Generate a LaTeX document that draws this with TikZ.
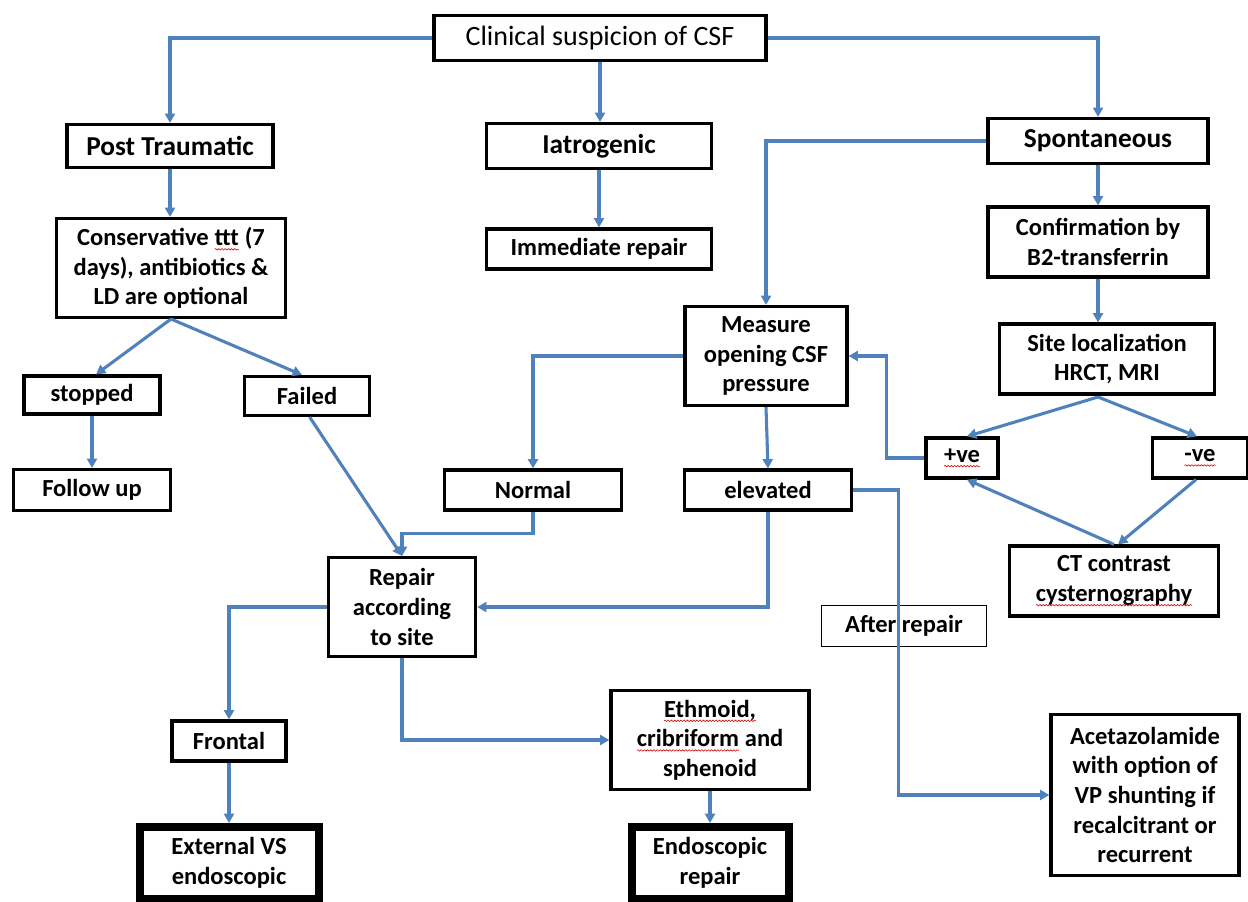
\documentclass[tikz,border=0pt]{standalone}
\usepackage{fontspec}
\setmainfont{Carlito}
\usetikzlibrary{arrows.meta,decorations.pathmorphing}
\definecolor{lineblue}{RGB}{79,129,189}
\newcommand\sq[1]{\tikz[baseline=(sqw.base),x=1pt,y=1pt]{\node[inner sep=0pt,outer sep=0pt,draw=none,minimum width=0pt,minimum height=0pt,line width=0pt] (sqw) {#1};
  \draw[red!85!black, line width=0.45pt, decorate, decoration={snake,amplitude=0.55pt,segment length=2.4pt}]
    ([yshift=-2.8pt]sqw.base west) -- ([yshift=-2.8pt]sqw.base east);}}
\tikzset{
  box/.style={draw=black, line width=2.4pt, inner sep=0pt, align=center,
    font=\bfseries\fontsize{18.4}{22.2}\selectfont},
  bigbox/.style={box, font=\bfseries\fontsize{20.5}{24}\selectfont},
  heavybox/.style={box, line width=6pt},
  thinbox/.style={box, line width=0.8pt},
  titlebox/.style={box, font=\fontsize{21}{25}\selectfont},
  arr/.style={draw=lineblue, line width=2.3pt, -{Triangle[length=7pt,width=7.5pt]}},
}
\begin{document}
\begin{tikzpicture}[x=0.75pt,y=-0.75pt]
\useasboundingbox (0,0) rectangle (1248,901);
\fill[white] (0,0) rectangle (1248,901);

% nodes
\node[titlebox, minimum width=249pt, minimum height=33.75pt] (clin) at (600,38) {Clinical suspicion of CSF};
\node[bigbox, minimum width=154.5pt, minimum height=32.25pt] (post) at (170,146) {Post Traumatic};
\node[bigbox, minimum width=168.75pt, minimum height=33.75pt] (iat) at (599,146) {Iatrogenic};
\node[bigbox, minimum width=165pt, minimum height=33.75pt] (spon) at (1098,141) {Spontaneous};
\node[box, minimum width=171.75pt, minimum height=74.25pt] (cons) at (171,268) {Conservative \sq{ttt} (7\\days), antibiotics \&\\LD are optional};
\node[box, minimum width=168.75pt, minimum height=30pt] (imm) at (599,249) {Immediate repair};
\node[box, minimum width=165pt, minimum height=52.5pt] (conf) at (1098,242) {Confirmation by\\B2-transferrin};
\node[box, minimum width=121.5pt, minimum height=74.25pt] (meas) at (766,356) {Measure\\opening CSF\\pressure};
\node[box, minimum width=161.25pt, minimum height=52.5pt] (site) at (1107,359) {Site localization\\HRCT, MRI};
\node[box, minimum width=102pt, minimum height=28.5pt] (stop) at (92,395) {stopped};
\node[box, minimum width=93.75pt, minimum height=29.25pt] (fail) at (307,396) {Failed};
\node[box, minimum width=54pt, minimum height=30pt] (pos) at (962,458) {\sq{+ve}};
\node[box, minimum width=71.25pt, minimum height=30pt] (neg) at (1200,458) {\sq{-ve}};
\node[box, minimum width=117.75pt, minimum height=30.75pt] (fol) at (92,490) {Follow up};
\node[box, minimum width=132.75pt, minimum height=30pt] (norm) at (533,490) {Normal};
\node[box, minimum width=125.25pt, minimum height=30pt] (elev) at (768,490) {elevated};
\node[box, minimum width=110.25pt, minimum height=74.25pt] (rep) at (402,607) {Repair\\according\\to site};
\node[box, minimum width=156.75pt, minimum height=52.5pt] (ct) at (1114,581) {CT contrast\\\sq{cysternography}};
\node[thinbox, minimum width=123.75pt, minimum height=30.75pt] (after) at (904,626) {After repair};
\node[box, minimum width=85.5pt, minimum height=30pt] (front) at (229,741) {Frontal};
\node[box, minimum width=148.5pt, minimum height=74.25pt] (ethm) at (710,740) {\sq{Ethmoid,}\\\sq{cribriform} and\\sphenoid};
\node[box, minimum width=141pt, minimum height=120.75pt] (acet) at (1145,795) {Acetazolamide\\with option of\\VP shunting if\\recalcitrant or\\recurrent};
\node[heavybox, minimum width=134.25pt, minimum height=54pt] (ext) at (229,863) {External VS\\endoscopic};
\node[heavybox, minimum width=117.75pt, minimum height=54pt] (endo) at (710,863) {Endoscopic\\repair};

% connectors
\draw[arr] (clin.west) -| (post.north);
\draw[arr] (clin.south) -- (clin.south |- iat.north);
\draw[arr] (clin.east) -| (spon.north);
\draw[arr] (post.south) -- (post.south |- cons.north);
\draw[arr] (iat.south) -- (iat.south |- imm.north);
\draw[arr] (spon.west) -| (meas.north);
\draw[arr] (spon.south) -- (conf.north);
\draw[arr] (conf.south) -- (conf.south |- site.north);
\coordinate (sb) at (1098,397);
\draw[arr] (sb) -- ([xshift=3.75pt]pos.north);
\draw[arr] (sb) -- ([xshift=-2.25pt]neg.north);
\coordinate (cb) at (171,319);
\draw[arr] (cb) -- ([xshift=3pt]stop.north);
\draw[arr] (cb) -- ([xshift=-3.75pt]fail.north);
\draw[arr] (stop.south) -- (fol.north);
\draw[arr] ([xshift=2pt]fail.south) -- (rep.north);
\draw[arr] (meas.west) -| (norm.north);
\draw[arr] (meas.south) -- (elev.north);
\draw[arr] (pos.west) -- ++(-38,0) |- (meas.east);
\draw[arr] ([xshift=-3pt]neg.south) -- ([xshift=3pt]ct.north);
\draw[arr] (ct.north) -- ([xshift=3.75pt]pos.south);
\draw[arr] (norm.south) -- ++(0,22) -| (rep.north);
\draw[arr] (elev.south) |- (rep.east);
\draw[arr] (elev.east) -- ++(45,0) |- (acet.west);
\draw[arr] (rep.west) -| (front.north);
\draw[arr] (rep.south) |- (ethm.west);
\draw[arr] (front.south) -- (front.south |- ext.north);
\draw[arr] (ethm.south) -- (ethm.south |- endo.north);
\end{tikzpicture}
\end{document}
